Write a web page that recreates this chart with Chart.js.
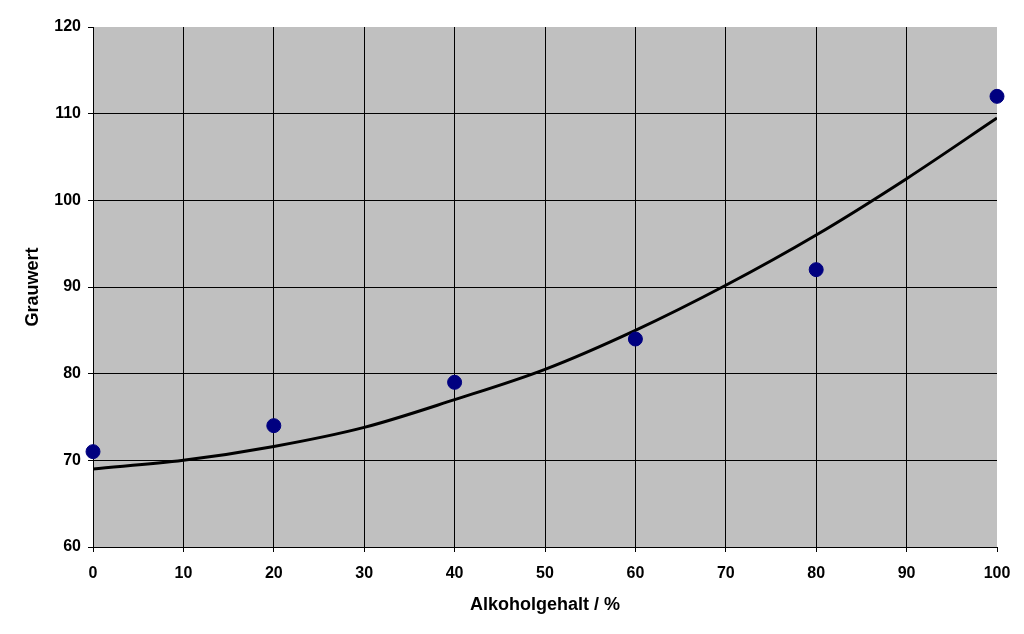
<!DOCTYPE html>
<html>
<head>
<meta charset="utf-8">
<script src="https://cdn.jsdelivr.net/npm/chart.js@4/dist/chart.umd.min.js"></script>
<style>
  html, body { margin: 0; padding: 0; background: #fff; }
  #wrap { width: 1024px; height: 634px; }
</style>
</head>
<body>
<div id="wrap"><canvas id="chart" width="1024" height="634"></canvas></div>
<script>
// measured points
const alkohol = [0, 20, 40, 60, 80, 100];
const grauwert = [71, 74, 79, 84, 92, 112];

// trend curve, every 10 %
const trendX = [0, 10, 20, 30, 40, 50, 60, 70, 80, 90, 100];
const trendY = [69, 70, 71.6, 73.8, 77, 80.5, 85, 90.2, 96, 102.5, 109.5];

const xTitle = 'Alkoholgehalt / %';
const yTitle = 'Grauwert';

const font = { family: "'Liberation Sans', Arial, sans-serif", weight: 'bold' };

// plot area background
const plotBg = {
  id: 'plotBg',
  beforeDraw(chart) {
    const { ctx, chartArea: a } = chart;
    ctx.save();
    ctx.fillStyle = '#c0c0c0';
    ctx.fillRect(a.left, a.top, a.right - a.left, a.bottom - a.top);
    ctx.restore();
  }
};

const ctx = document.getElementById('chart').getContext('2d');
new Chart(ctx, {
  type: 'scatter',
  data: {
    datasets: [
      {
        label: 'Messwerte',
        data: alkohol.map((x, i) => ({ x, y: grauwert[i] })),
        backgroundColor: '#000080',
        borderColor: '#000080',
        pointRadius: 7,
        pointHoverRadius: 7,
        clip: false,
        order: 1
      },
      {
        label: 'Trend',
        type: 'line',
        data: trendX.map((x, i) => ({ x, y: trendY[i] })),
        borderColor: '#000',
        borderWidth: 3,
        pointRadius: 0,
        fill: false,
        cubicInterpolationMode: 'monotone',
        order: 2
      }
    ]
  },
  options: {
    responsive: false,
    animation: false,
    layout: { padding: { top: 27, right: 27, left: 18, bottom: 14 } },
    plugins: {
      legend: { display: false },
      tooltip: { enabled: false }
    },
    scales: {
      x: {
        type: 'linear',
        min: 0,
        max: 100,
        ticks: { stepSize: 10, color: '#000', font: { ...font, size: 16 }, padding: 12 },
        grid: {
          color: c => (c.tick && c.tick.value === 100 ? 'rgba(0,0,0,0)' : '#000'),
          tickColor: '#000',
          tickLength: 5,
          lineWidth: 1
        },
        border: { color: '#000', width: 1 },
        title: { display: true, text: xTitle, color: '#000', font: { ...font, size: 18 }, padding: { top: 8 } },
        afterFit(s) { s.height = 73; }
      },
      y: {
        min: 60,
        max: 120,
        ticks: { stepSize: 10, color: '#000', font: { ...font, size: 16 }, padding: 7 },
        grid: {
          color: c => (c.tick && c.tick.value === 120 ? 'rgba(0,0,0,0)' : '#000'),
          tickColor: '#000',
          tickLength: 5,
          lineWidth: 1
        },
        border: { color: '#000', width: 1 },
        title: { display: true, text: yTitle, color: '#000', font: { ...font, size: 18 }, padding: { bottom: 16 } },
        afterFit(s) { s.width = 75; }
      }
    }
  },
  plugins: [plotBg]
});
</script>
</body>
</html>
